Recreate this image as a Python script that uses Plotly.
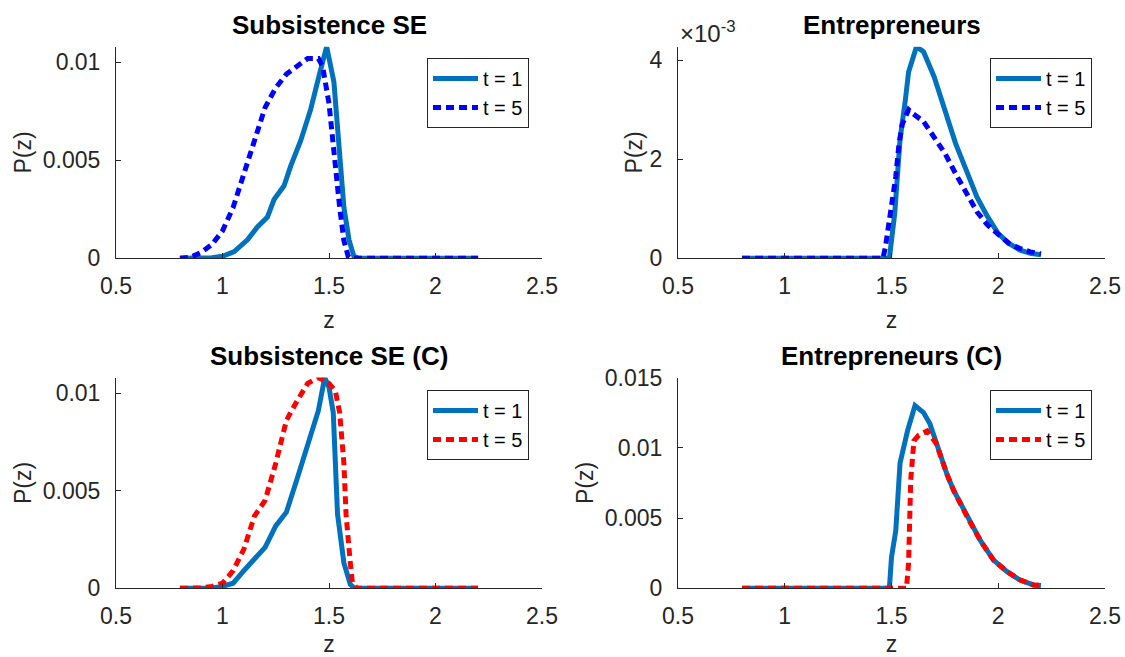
import plotly.graph_objects as go

# ---------------- data ----------------
# Subsistence SE (top-left)
se_x_t1 = [0.8, 0.9, 0.95, 1.0, 1.055, 1.117, 1.164, 1.211, 1.242, 1.289, 1.32, 1.367, 1.414, 1.453, 1.489, 1.523, 1.547, 1.57, 1.594, 1.617, 1.64, 2.2]
se_y_t1 = [0.0, 0.0, 0.00003, 0.0001, 0.00034, 0.00094, 0.0016, 0.0021, 0.003, 0.0037, 0.0047, 0.006, 0.0076, 0.0093, 0.0108, 0.009, 0.0055, 0.0026, 0.00094, 0.0001, 0.0, 0.0]
se_x_t5 = [0.8, 0.85, 0.9, 0.95, 1.0, 1.05, 1.1, 1.15, 1.2, 1.25, 1.3, 1.35, 1.4, 1.45, 1.47, 1.5, 1.52, 1.55, 1.57, 1.59, 1.6, 2.2]
se_y_t5 = [0.0, 0.00005, 0.0003, 0.0007, 0.0014, 0.0026, 0.0043, 0.006, 0.0077, 0.0087, 0.0094, 0.0098, 0.0102, 0.0102, 0.0098, 0.0079, 0.0055, 0.0026, 0.0009, 0.0001, 0.0, 0.0]

# Entrepreneurs (top-right)
en_x_t1 = [0.8, 1.49, 1.515, 1.54, 1.565, 1.58, 1.617, 1.65, 1.7, 1.75, 1.8, 1.85, 1.9, 1.95, 2.0, 2.05, 2.1, 2.15, 2.2]
en_y_t1 = [0.0, 0.0, 0.0009, 0.0024, 0.0032, 0.00376, 0.00427, 0.00417, 0.00366, 0.00299, 0.00232, 0.00178, 0.00124, 0.00084, 0.0005, 0.0003, 0.00017, 0.0001, 0.00007]
en_x_t5 = [0.8, 1.46, 1.472, 1.495, 1.52, 1.535, 1.55, 1.58, 1.6, 1.65, 1.7, 1.75, 1.8, 1.85, 1.9, 1.95, 2.0, 2.05, 2.1, 2.15, 2.2]
en_y_t5 = [0.0, 0.0, 0.00024, 0.0009, 0.00165, 0.0023, 0.0027, 0.003, 0.00292, 0.00276, 0.00245, 0.00212, 0.00171, 0.00131, 0.00094, 0.00067, 0.00047, 0.0003, 0.0002, 0.00013, 0.00009]

# Subsistence SE (C) (bottom-left)
sc_x_t1 = [0.8, 0.95, 1.0, 1.05, 1.1, 1.15, 1.2, 1.25, 1.3, 1.35, 1.4, 1.45, 1.48, 1.5, 1.52, 1.54, 1.57, 1.6, 1.62, 2.2]
sc_y_t1 = [0.0, 0.00002, 0.0001, 0.00026, 0.0009, 0.0015, 0.0021, 0.0032, 0.0039, 0.0056, 0.0073, 0.0091, 0.0108, 0.0103, 0.009, 0.0038, 0.0013, 0.0002, 0.0, 0.0]
sc_x_t5 = [0.8, 0.9, 0.95, 1.0, 1.05, 1.1, 1.15, 1.2, 1.25, 1.3, 1.35, 1.4, 1.45, 1.5, 1.53, 1.55, 1.57, 1.58, 1.6, 1.61, 1.63, 2.2]
sc_y_t5 = [0.0, 0.00002, 0.0001, 0.00026, 0.0009, 0.002, 0.0037, 0.0045, 0.0064, 0.0086, 0.0096, 0.0105, 0.0108, 0.0105, 0.0101, 0.009, 0.0064, 0.0038, 0.0013, 0.0003, 0.0, 0.0]

# Entrepreneurs (C) (bottom-right)
ec_x_t1 = [0.8, 1.49, 1.5, 1.52, 1.54, 1.575, 1.61, 1.65, 1.68, 1.71, 1.76, 1.79, 1.854, 1.916, 1.978, 2.04, 2.1, 2.165, 2.2]
ec_y_t1 = [0.0, 0.0, 0.0022, 0.0041, 0.0089, 0.0112, 0.013, 0.0125, 0.0117, 0.0103, 0.0081, 0.007, 0.0051, 0.0034, 0.002, 0.0012, 0.0006, 0.00024, 0.0002]
ec_x_t5 = [0.8, 1.57, 1.58, 1.59, 1.605, 1.628, 1.667, 1.71, 1.76, 1.79, 1.854, 1.916, 1.978, 2.04, 2.1, 2.165, 2.2]
ec_y_t5 = [0.0, 0.0, 0.0018, 0.0077, 0.0105, 0.0109, 0.0112, 0.0103, 0.0081, 0.007, 0.0051, 0.0034, 0.002, 0.0012, 0.0006, 0.00024, 0.0002]

titles = ["Subsistence SE", "Entrepreneurs", "Subsistence SE (C)", "Entrepreneurs (C)"]
x_ticks = [0.5, 1, 1.5, 2, 2.5]
x_tick_text = ["0.5", "1", "1.5", "2", "2.5"]
y_ticks_se = [0, 0.005, 0.01]
y_ticks_se_text = ["0", "0.005", "0.01"]
y_ticks_en = [0, 0.002, 0.004]
y_ticks_en_text = ["0", "2", "4"]
y_ticks_ec = [0, 0.005, 0.01, 0.015]
y_ticks_ec_text = ["0", "0.005", "0.01", "0.015"]
y_ranges = [[0, 0.0108], [0, 0.00427], [0, 0.0108], [0, 0.015]]

# ---------------- styling ----------------
FONT = "Liberation Sans, Arial, Helvetica, sans-serif"
AX = "#262626"
MBLUE = "#0072BD"
BLUE = "#0000FF"
RED = "#FF0000"
LW = 5
DOT = "8px,5px"

fig = go.Figure()

panels = [
    (se_x_t1, se_y_t1, se_x_t5, se_y_t5, BLUE),
    (en_x_t1, en_y_t1, en_x_t5, en_y_t5, BLUE),
    (sc_x_t1, sc_y_t1, sc_x_t5, sc_y_t5, RED),
    (ec_x_t1, ec_y_t1, ec_x_t5, ec_y_t5, RED),
]
for i, (x1, y1, x5, y5, c5) in enumerate(panels):
    sfx = "" if i == 0 else str(i + 1)
    leg = "legend" if i == 0 else "legend" + str(i + 1)
    fig.add_trace(go.Scatter(x=x1, y=y1, mode="lines", name="t = 1",
                             line=dict(color=MBLUE, width=LW),
                             xaxis="x" + sfx, yaxis="y" + sfx, legend=leg))
    fig.add_trace(go.Scatter(x=x5, y=y5, mode="lines", name="t = 5",
                             line=dict(color=c5, width=LW, dash=DOT),
                             xaxis="x" + sfx, yaxis="y" + sfx, legend=leg))

W, H = 1125, 657
xdoms = [[116 / W, 542 / W], [678 / W, 1105 / W]]
ydoms = [[1 - 258.3 / H, 1 - 46.7 / H], [1 - 588.3 / H, 1 - 377.5 / H]]

ytv = [(y_ticks_se, y_ticks_se_text), (y_ticks_en, y_ticks_en_text),
       (y_ticks_se, y_ticks_se_text), (y_ticks_ec, y_ticks_ec_text)]
standoffs = [4, 0, 4, 4]

layout = dict(
    width=W, height=H,
    margin=dict(l=0, r=0, t=0, b=0, autoexpand=False),
    paper_bgcolor="white", plot_bgcolor="white",
    font=dict(family=FONT, size=23, color=AX),
    showlegend=True,
    annotations=[],
)

for i in range(4):
    sfx = "" if i == 0 else str(i + 1)
    col, row = i % 2, i // 2
    layout["xaxis" + sfx] = dict(
        domain=xdoms[col], anchor="y" + sfx, range=[0.5, 2.5], automargin=False,
        tickvals=x_ticks, ticktext=x_tick_text,
        ticks="inside", ticklen=5, tickcolor=AX, tickwidth=1,
        showline=True, linecolor=AX, linewidth=1, showgrid=False, zeroline=False,
        tickfont=dict(size=23, color=AX, family=FONT), ticklabelstandoff=7,
        title=dict(text="z", font=dict(size=23, color=AX, family=FONT), standoff=13),
    )
    tv, tt = ytv[i]
    layout["yaxis" + sfx] = dict(
        domain=ydoms[row], anchor="x" + sfx, range=y_ranges[i], automargin=False,
        tickvals=tv, ticktext=tt,
        ticks="inside", ticklen=5, tickcolor=AX, tickwidth=1,
        showline=True, linecolor=AX, linewidth=1, showgrid=False, zeroline=False,
        tickfont=dict(size=23, color=AX, family=FONT), ticklabelstandoff=10,
        title=dict(text="P(z)", font=dict(size=23, color=AX, family=FONT), standoff=standoffs[i]),
    )
    legname = "legend" if i == 0 else "legend" + str(i + 1)
    layout[legname] = dict(
        x=(529 if col == 0 else 1092) / W, xanchor="right",
        y=(1 - 58 / H) if row == 0 else (1 - 390 / H), yanchor="top",
        bgcolor="white", bordercolor=AX, borderwidth=1,
        font=dict(size=20, color="black", family=FONT),
        tracegroupgap=0, itemwidth=45,
    )
    xc = (xdoms[col][0] + xdoms[col][1]) / 2
    ytop = ydoms[row][1]
    layout["annotations"].append(dict(
        text="<b>" + titles[i] + "</b>", x=xc, y=ytop, xref="paper", yref="paper",
        xanchor="center", yanchor="bottom", yshift=5, showarrow=False,
        font=dict(size=26, color="black", family=FONT),
    ))

layout["annotations"].append(dict(
    text="×10<sup>-3</sup>", x=xdoms[1][0], y=ydoms[0][1], xref="paper", yref="paper",
    xanchor="left", yanchor="bottom", yshift=-2, showarrow=False,
    font=dict(size=24, color=AX, family=FONT),
))

fig.update_layout(**layout)
fig.write_html("out.html", config={"displayModeBar": False},
               post_script="document.body.style.margin='0';")
